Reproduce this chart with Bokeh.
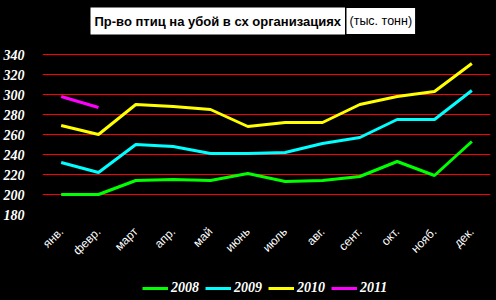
from math import pi
from bokeh.plotting import figure
from bokeh.models import (Range1d, FactorRange, FixedTicker, Label, Legend, LegendItem)
from bokeh.embed import file_html
from bokeh.resources import INLINE

months = ["янв.", "февр.", "март", "апр.", "май", "июнь", "июль", "авг.", "сент.", "окт.", "нояб.", "дек."]
s2008 = [200, 200, 214, 215, 214, 221, 213, 214, 218, 233, 219, 253]
s2009 = [232, 222, 250, 248, 241, 241, 242, 251, 257, 275, 275, 304]
s2010 = [269, 260, 290, 288, 285, 268, 272, 272, 290, 298, 303, 331]
s2011 = [298, 287]
years = ["2008", "2009", "2010", "2011"]
colors = ["#00ff00", "#00ffff", "#ffff00", "#ff00ff"]
y_ticks = [180, 200, 220, 240, 260, 280, 300, 320, 340]
grid_ticks = [200, 220, 240, 260, 280, 300, 320, 340]
title_bold = "Пр-во птиц на убой в сх организациях"
title_unit = "(тыс. тонн)"

SERIF = "'Liberation Serif', 'Times New Roman', serif"
SANS = "'Liberation Sans', Arial, sans-serif"

p = figure(width=496, height=300, output_backend="svg", toolbar_location=None,
           x_range=FactorRange(factors=months, range_padding=0),
           y_range=Range1d(94, 394),
           background_fill_color=None, border_fill_color=None,
           min_border_left=42, min_border_right=6, min_border_top=0, min_border_bottom=0)
p.outline_line_color = None
p.outline_line_alpha = 0
p.outline_line_width = 0
p.title.visible = False

series = [s2008, s2009, s2010, s2011]
renderers = []
for vals, c in zip(series, colors):
    r = p.line(months[:len(vals)], vals, line_color=c, line_width=3)
    renderers.append(r)

p.xgrid.grid_line_color = None
p.ygrid.ticker = FixedTicker(ticks=grid_ticks)
p.ygrid.grid_line_color = "#ff0000"
p.ygrid.grid_line_width = 1

p.yaxis.ticker = FixedTicker(ticks=y_ticks)
p.yaxis.axis_line_color = None
p.yaxis.major_tick_line_color = None
p.yaxis.minor_tick_line_color = None
p.yaxis.major_label_standoff = 12
p.yaxis.major_label_text_color = "white"
p.yaxis.major_label_text_font = SERIF
p.yaxis.major_label_text_font_style = "bold italic"
p.yaxis.major_label_text_font_size = "14px"

p.xaxis.fixed_location = 175
p.xaxis.axis_line_color = None
p.xaxis.major_tick_line_color = None
p.xaxis.minor_tick_line_color = None
p.xaxis.major_label_orientation = pi / 4
p.xaxis.major_label_standoff = 4
p.xaxis.major_label_text_color = "white"
p.xaxis.major_label_text_font = SANS
p.xaxis.major_label_text_font_size = "12px"

legend = Legend(items=[LegendItem(label=y, renderers=[r]) for y, r in zip(years, renderers)],
                orientation="horizontal", location=(100, 4),
                background_fill_alpha=0, border_line_color=None,
                padding=0, margin=0, spacing=6, label_standoff=3,
                glyph_width=26, glyph_height=16, label_height=16,
                label_text_color="white", label_text_font=SERIF,
                label_text_font_style="bold italic", label_text_font_size="14px")
p.add_layout(legend, "center")

t1 = Label(x=48, y=279.5, x_units="screen", y_units="screen", text=title_bold,
           text_font=SANS, text_font_style="bold", text_font_size="13px",
           text_color="black", text_baseline="middle", text_align="left",
           background_fill_color="white", padding=dict(x=4, y=6))
t2 = Label(x=304, y=279.5, x_units="screen", y_units="screen", text=title_unit,
           text_font=SANS, text_font_style="normal", text_font_size="12.5px",
           text_color="black", text_baseline="middle", text_align="left",
           background_fill_color="white", padding=dict(x=3, y=6))
p.add_layout(t1)
p.add_layout(t2)

page_style = "{% block preamble %}<style>html, body { background: #000000; }</style>{% endblock %}"
open("out.html", "w").write(file_html(p, INLINE, template=page_style))
